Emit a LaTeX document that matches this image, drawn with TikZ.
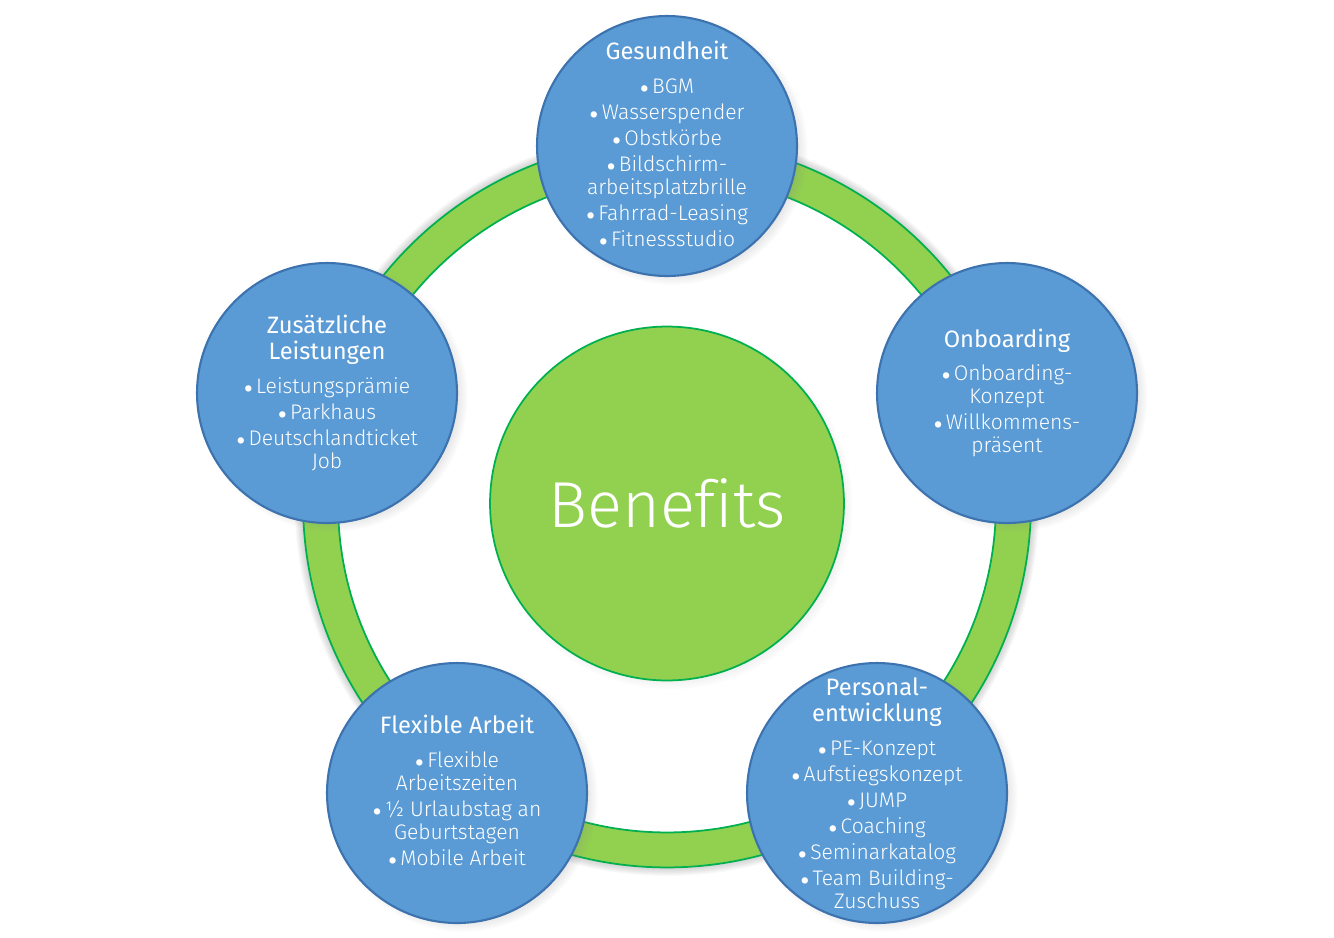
\documentclass[tikz,border=0pt]{standalone}
\usepackage{fontspec}
\setmainfont{Fira Sans Light}[Ligatures=NoCommon]
\newfontfamily\headfont{Fira Sans}
\usetikzlibrary{shadows}
\definecolor{blobblue}{HTML}{5B9BD5}
\definecolor{blobedge}{HTML}{3C72AE}
\definecolor{ringgreen}{HTML}{92D050}
\definecolor{ringedge}{HTML}{00B050}
\newcommand\itm{\raisebox{-.45ex}{\headfont\fontsize{16}{0}\selectfont\textbullet}\hspace{.15em}}
\newcommand\hd[1]{{\headfont\fontsize{13.5}{14.8}\selectfont #1}}

\begin{document}
\begin{tikzpicture}[x=0.02cm, y=-0.02cm,
  blob/.style={circle, minimum size=5.2cm, inner sep=0pt, fill=blobblue, draw=blobedge, line width=1.2pt,
    circular drop shadow={shadow xshift=3pt, shadow yshift=-2pt, shadow scale=1.04, opacity=.35}},
  lbl/.style={text=white, align=center, inner sep=0pt, font=\fontsize{12}{13.1}\selectfont},
  hubnode/.style={circle, minimum size=7.08cm, inner sep=0pt, fill=ringgreen, draw=ringedge, line width=1pt,
    text=white, font=\fontsize{37}{42}\selectfont,
    circular drop shadow={shadow xshift=2pt, shadow yshift=-2pt, shadow scale=1.03, opacity=.3}}]
\useasboundingbox (0,0) rectangle (1334,937);

\coordinate (hub) at (667,503.5);
\foreach \r in {1,...,8}
  \fill[black, opacity=.025, even odd rule] (hub) circle (7.28cm+\r*0.6pt) (hub) circle (6.58cm);
\fill[ringgreen, even odd rule] (hub) circle (7.28cm) (hub) circle (6.58cm);
\draw[ringedge, line width=1pt] (hub) circle (7.28cm) (hub) circle (6.58cm);

\node[hubnode] (benefits) at (hub) {Benefits};

\foreach \nm/\cx/\cy in {gesund/667/146, onboard/1007/393, extra/327/393, flex/457/793, personal/877/793}
  \node[blob] (\nm) at (\cx,\cy) {};

\node[lbl] (gesund-txt) at (gesund) {\hd{Gesundheit}\\[6pt]
  \itm BGM\\[1.7pt] \itm Wasserspender\\[1.7pt] \itm Obstkörbe\\[1.7pt]
  \itm Bildschirm-\\ arbeitsplatzbrille\\[1.7pt] \itm Fahrrad-Leasing\\[1.7pt] \itm Fitnessstudio};
\node[lbl] (onboard-txt) at (onboard) {\hd{Onboarding}\\[6pt]
  \itm Onboarding-\\ Konzept\\[1.7pt] \itm Willkommens-\\ präsent};
\node[lbl] (extra-txt) at (extra) {\hd{Zusätzliche}\\[1.7pt] \hd{Leistungen}\\[6pt]
  \itm Leistungsprämie\\[1.7pt] \itm Parkhaus\\[1.7pt] \itm Deutschlandticket\\ Job};
\node[lbl] (flex-txt) at (flex) {\hd{Flexible Arbeit}\\[6pt]
  \itm Flexible\\ Arbeitszeiten\\[1.7pt] \itm ½ Urlaubstag an\\ Geburtstagen\\[1.7pt] \itm Mobile Arbeit};
\node[lbl] (personal-txt) at (personal) {\hd{Personal-}\\[1.7pt] \hd{entwicklung}\\[6pt]
  \itm PE-Konzept\\[1.7pt] \itm Aufstiegskonzept\\[1.7pt] \itm JUMP\\[1.7pt] \itm Coaching\\[1.7pt]
  \itm Seminarkatalog\\[1.7pt] \itm Team Building-\\ Zuschuss};

\end{tikzpicture}
\end{document}
